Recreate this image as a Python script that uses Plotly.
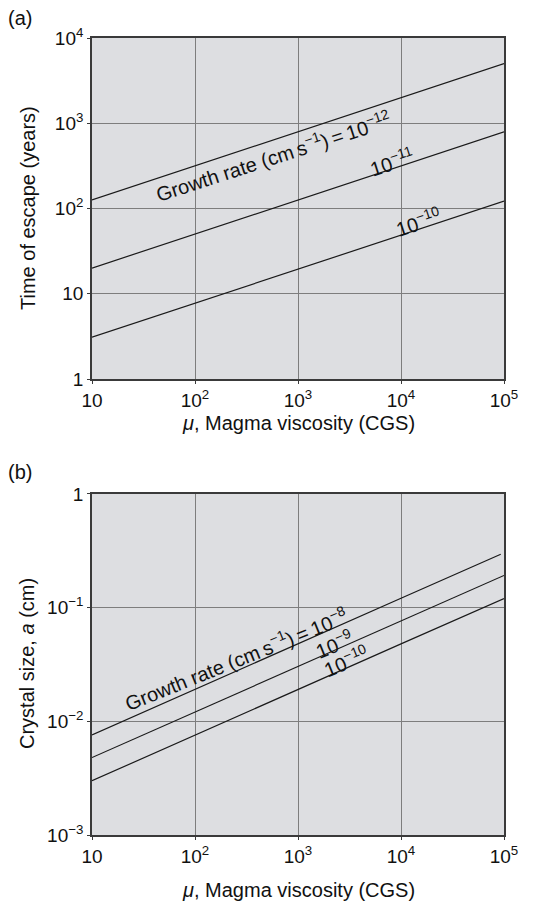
import plotly.graph_objects as go
from plotly.subplots import make_subplots

# Viscosity (CGS) at which each curve is tabulated
viscosity = [10, 1e2, 1e3, 1e4, 1e5]

# (a) Time of escape (years) for three growth rates
escape_g12 = [126, 316, 794, 1995, 5012]
escape_g11 = [20, 50, 126, 316, 794]
escape_g10 = [3.1, 7.8, 19.5, 49, 122]

# (b) Crystal size a (cm) for three growth rates
viscosity_b8 = [10, 1e2, 1e3, 1e4, 9.3e4]
size_g8 = [0.0076, 0.0192, 0.0482, 0.121, 0.295]
size_g9 = [0.0048, 0.0121, 0.0304, 0.0764, 0.192]
size_g10 = [0.0030, 0.0076, 0.019, 0.048, 0.12]

x_tickvals = [10, 1e2, 1e3, 1e4, 1e5]
x_ticktext = ["10", "10<sup>2</sup>", "10<sup>3</sup>", "10<sup>4</sup>", "10<sup>5</sup>"]
ya_tickvals = [1, 10, 1e2, 1e3, 1e4]
ya_ticktext = ["1", "10", "10<sup>2</sup>", "10<sup>3</sup>", "10<sup>4</sup>"]
yb_tickvals = [1e-3, 1e-2, 1e-1, 1]
yb_ticktext = ["10<sup>\u22123</sup>", "10<sup>\u22122</sup>", "10<sup>\u22121</sup>", "1"]

FONT = "Liberation Sans, Arial, Helvetica, sans-serif"
LINE = dict(color="#1a1a1a", width=1.2)
BG = "#dddee1"
GRID = "#7d7d7d"
AXIS = "#3a3a3a"

fig = make_subplots(rows=2, cols=1, vertical_spacing=0.1442)

for ys in (escape_g12, escape_g11, escape_g10):
    fig.add_trace(go.Scatter(x=viscosity, y=ys, mode="lines", line=LINE,
                             showlegend=False, hoverinfo="skip"), row=1, col=1)
for xs, ys in ((viscosity_b8, size_g8), (viscosity, size_g9), (viscosity, size_g10)):
    fig.add_trace(go.Scatter(x=xs, y=ys, mode="lines", line=LINE,
                             showlegend=False, hoverinfo="skip"), row=2, col=1)

axis_common = dict(type="log", showgrid=True, gridcolor=GRID, gridwidth=1.3,
                   showline=True, linecolor=AXIS, linewidth=1.6, mirror=True,
                   ticks="outside", ticklen=3, tickcolor=AXIS, zeroline=False,
                   tickfont=dict(family=FONT, size=19, color="#111"))

fig.update_xaxes(**axis_common, range=[1, 5], tickvals=x_tickvals, ticktext=x_ticktext)
fig.update_yaxes(**axis_common)
fig.update_yaxes(range=[0, 4], tickvals=ya_tickvals, ticktext=ya_ticktext, row=1, col=1)
fig.update_yaxes(range=[-3, 0], tickvals=yb_tickvals, ticktext=yb_ticktext, row=2, col=1)
fig.update_yaxes(domain=[0.5721, 1.0], row=1, col=1)
fig.update_yaxes(domain=[0.0, 0.4279], row=2, col=1)

ann_font = dict(family=FONT, size=20, color="#111")
title_font = dict(family=FONT, size=20, color="#111")

annotations = [
    # curve labels, panel (a)
    dict(x=2.762, y=2.627, xref="x", yref="y", textangle=-18,
         text="Growth rate (cm\u2009s<sup>\u22121</sup>)\u2009=\u200910<sup>\u221212</sup>"),
    dict(x=3.903, y=2.556, xref="x", yref="y", textangle=-18,
         text="10<sup>\u221211</sup>"),
    dict(x=4.165, y=1.852, xref="x", yref="y", textangle=-18,
         text="10<sup>\u221210</sup>"),
    # curve labels, panel (b)
    dict(x=2.398, y=-1.451, xref="x2", yref="y2", textangle=-22,
         text="Growth rate (cm\u2009s<sup>\u22121</sup>)\u2009=\u200910<sup>\u22128</sup>"),
    dict(x=3.350, y=-1.319, xref="x2", yref="y2", textangle=-22,
         text="10<sup>\u22129</sup>"),
    dict(x=3.466, y=-1.469, xref="x2", yref="y2", textangle=-22,
         text="10<sup>\u221210</sup>"),
]
for a in annotations:
    a.update(showarrow=False, font=ann_font, xanchor="center", yanchor="middle")


def px_x(px):
    return (px - 92) / 412


def px_y(py):
    return (835 - py) / 797


annotations += [
    dict(x=px_x(20), y=px_y(18), text="(a)"),
    dict(x=px_x(20), y=px_y(472), text="(b)"),
    dict(x=px_x(298), y=px_y(423), text="<i>\u03bc</i>, Magma viscosity (CGS)"),
    dict(x=px_x(298), y=px_y(890), text="<i>\u03bc</i>, Magma viscosity (CGS)"),
    dict(x=px_x(28), y=px_y(208), text="Time of escape (years)", textangle=-90),
    dict(x=px_x(27), y=px_y(664), text="Crystal size, <i>a</i> (cm)", textangle=-90),
]
for a in annotations[6:]:
    a.update(xref="paper", yref="paper", showarrow=False, font=title_font,
             xanchor="center", yanchor="middle")

fig.update_layout(
    width=544, height=903,
    margin=dict(l=92, r=40, t=38, b=68),
    paper_bgcolor="white", plot_bgcolor=BG,
    annotations=annotations,
    font=dict(family=FONT),
)

fig.write_html("out.html")
